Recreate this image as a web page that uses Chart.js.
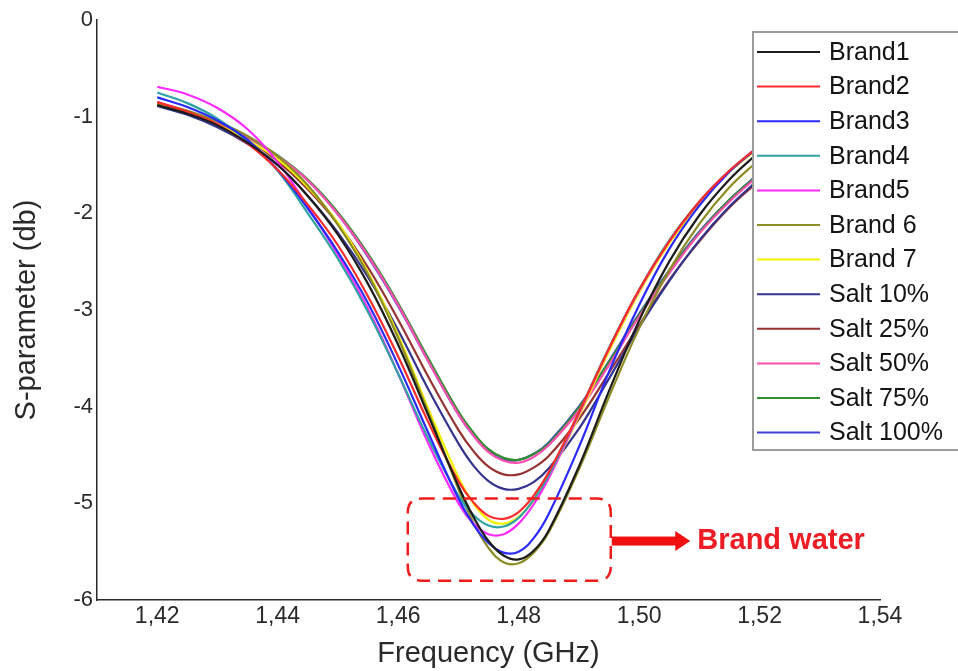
<!doctype html>
<html lang="en">
<head>
<meta charset="utf-8">
<title>S-parameter vs Frequency</title>
<script src="https://cdn.jsdelivr.net/npm/chart.js@4.4.1/dist/chart.umd.min.js"></script>
<style>
  html, body { margin: 0; padding: 0; background: #fff; }
  canvas { display: block; }
</style>
</head>
<body>
<canvas id="myChart" width="958" height="671"></canvas>
<script>
// frequency grid (GHz)
var freqs = [1.42, 1.425, 1.43, 1.435, 1.44, 1.445, 1.45, 1.455, 1.46, 1.465, 1.47, 1.4725,
             1.475, 1.4775, 1.48, 1.4825, 1.485, 1.49, 1.495, 1.50, 1.505, 1.51, 1.515, 1.52];

var xTickValues = [1.42, 1.44, 1.46, 1.48, 1.50, 1.52, 1.54];

// S-parameter (dB)
var brand1  = [-0.88, -0.97, -1.09, -1.27, -1.50, -1.82, -2.22, -2.73, -3.36, -4.09, -4.82, -5.14, -5.39, -5.54, -5.58, -5.49, -5.28, -4.62, -3.84, -3.11, -2.50, -2.02, -1.65, -1.36];
var brand2  = [-0.85, -0.95, -1.08, -1.28, -1.55, -1.91, -2.33, -2.86, -3.48, -4.16, -4.77, -4.99, -5.13, -5.16, -5.09, -4.92, -4.68, -4.06, -3.40, -2.79, -2.29, -1.88, -1.56, -1.30];
var brand3  = [-0.80, -0.90, -1.04, -1.24, -1.55, -1.95, -2.40, -2.93, -3.57, -4.27, -4.95, -5.22, -5.41, -5.51, -5.50, -5.36, -5.11, -4.42, -3.64, -2.95, -2.37, -1.92, -1.57, -1.30];
var brand4  = [-0.75, -0.86, -1.02, -1.25, -1.56, -2.00, -2.47, -3.02, -3.66, -4.33, -4.92, -5.12, -5.23, -5.24, -5.15, -4.96, -4.71, -4.06, -3.39, -2.79, -2.28, -1.88, -1.56, -1.30];
var brand5  = [-0.69, -0.77, -0.91, -1.13, -1.47, -1.93, -2.43, -2.99, -3.66, -4.38, -5.00, -5.21, -5.32, -5.32, -5.21, -5.01, -4.74, -4.08, -3.40, -2.80, -2.29, -1.88, -1.56, -1.31];
var brand6  = [-0.86, -0.94, -1.05, -1.20, -1.41, -1.71, -2.12, -2.63, -3.29, -4.06, -4.85, -5.20, -5.46, -5.61, -5.62, -5.51, -5.30, -4.65, -3.90, -3.19, -2.59, -2.11, -1.73, -1.44];
var brand7  = [-0.87, -0.96, -1.08, -1.24, -1.44, -1.73, -2.10, -2.61, -3.26, -4.02, -4.73, -5.00, -5.17, -5.21, -5.14, -4.97, -4.73, -4.10, -3.43, -2.82, -2.31, -1.90, -1.57, -1.32];
var salt10  = [-0.89, -0.98, -1.11, -1.28, -1.50, -1.82, -2.20, -2.66, -3.21, -3.82, -4.38, -4.61, -4.77, -4.85, -4.85, -4.78, -4.64, -4.23, -3.71, -3.18, -2.70, -2.28, -1.93, -1.64];
var salt25  = [-0.87, -0.96, -1.08, -1.24, -1.46, -1.75, -2.11, -2.56, -3.10, -3.69, -4.24, -4.46, -4.62, -4.70, -4.70, -4.63, -4.51, -4.13, -3.65, -3.16, -2.69, -2.29, -1.94, -1.66];
var salt50  = [-0.85, -0.94, -1.06, -1.21, -1.41, -1.66, -2.01, -2.44, -2.95, -3.53, -4.08, -4.30, -4.47, -4.56, -4.58, -4.52, -4.40, -4.04, -3.57, -3.07, -2.62, -2.21, -1.88, -1.60];
var salt75  = [-0.88, -0.96, -1.07, -1.21, -1.40, -1.65, -1.99, -2.42, -2.93, -3.50, -4.05, -4.27, -4.44, -4.53, -4.55, -4.49, -4.38, -4.01, -3.54, -3.05, -2.60, -2.20, -1.86, -1.59];
var salt100 = [-0.86, -0.95, -1.06, -1.21, -1.41, -1.66, -2.01, -2.45, -2.96, -3.53, -4.08, -4.30, -4.46, -4.55, -4.55, -4.49, -4.37, -4.00, -3.53, -3.04, -2.59, -2.19, -1.86, -1.58];

var seriesNames  = ['Brand1', 'Brand2', 'Brand3', 'Brand4', 'Brand5', 'Brand 6', 'Brand 7',
                    'Salt 10%', 'Salt 25%', 'Salt 50%', 'Salt 75%', 'Salt 100%'];
var seriesValues = [brand1, brand2, brand3, brand4, brand5, brand6, brand7,
                    salt10, salt25, salt50, salt75, salt100];
var seriesColors = ['#1c1c1c', '#ff2a2a', '#2a2aff', '#2fa3a3', '#ff2aff', '#8c8c24', '#f2f200',
                    '#34348f', '#963232', '#ff4fb0', '#2f8f2f', '#4242d6'];

// "Brand water" call-out, in data units
var boxFreq = [1.4616, 1.4953];
var boxDb = [-4.95, -5.80];
var arrowEndFreq = 1.5085;
var arrowDb = -5.39;
var calloutText = 'Brand water';

var FONT = '"Liberation Sans", Arial, sans-serif';

var datasets = seriesNames.map(function (name, i) {
    return {
        label: name,
        data: freqs.map(function (f, j) { return { x: f, y: seriesValues[i][j] }; }),
        borderColor: seriesColors[i],
        backgroundColor: seriesColors[i],
        borderWidth: 2.2,
        pointRadius: 0,
        fill: false,
        tension: 0.4
    };
});

// boxed legend drawn over the right edge of the plot
var legendBox = {
    id: 'legendBox',
    afterDatasetsDraw: function (chart) {
        var ctx = chart.ctx;
        ctx.save();
        ctx.fillStyle = '#fff';
        ctx.fillRect(753, 32, 215, 418);
        ctx.strokeStyle = '#9c9c9c';
        ctx.lineWidth = 2;
        ctx.strokeRect(753, 32, 215, 418);
        ctx.font = '25px ' + FONT;
        ctx.textBaseline = 'middle';
        chart.data.datasets.forEach(function (ds, i) {
            var y = 52 + i * 34.6;
            ctx.strokeStyle = ds.borderColor;
            ctx.lineWidth = 2;
            ctx.beginPath();
            ctx.moveTo(757, y);
            ctx.lineTo(820, y);
            ctx.stroke();
            ctx.fillStyle = '#141414';
            ctx.fillText(ds.label, 829, y + 1);
        });
        ctx.restore();
    }
};

// dashed rounded box, arrow and label
var callout = {
    id: 'callout',
    afterDatasetsDraw: function (chart) {
        var ctx = chart.ctx, xs = chart.scales.x, ys = chart.scales.y;
        var x0 = xs.getPixelForValue(boxFreq[0]), x1 = xs.getPixelForValue(boxFreq[1]);
        var y0 = ys.getPixelForValue(boxDb[0]), y1 = ys.getPixelForValue(boxDb[1]);
        var r = 14;
        ctx.save();
        ctx.strokeStyle = '#f01c1c';
        ctx.lineWidth = 2.5;
        ctx.setLineDash([13, 8]);
        ctx.beginPath();
        ctx.moveTo(x0 + r, y0);
        ctx.lineTo(x1 - r, y0);
        ctx.quadraticCurveTo(x1, y0, x1, y0 + r);
        ctx.lineTo(x1, y1 - r);
        ctx.quadraticCurveTo(x1, y1, x1 - r, y1);
        ctx.lineTo(x0 + r, y1);
        ctx.quadraticCurveTo(x0, y1, x0, y1 - r);
        ctx.lineTo(x0, y0 + r);
        ctx.quadraticCurveTo(x0, y0, x0 + r, y0);
        ctx.closePath();
        ctx.stroke();
        ctx.setLineDash([]);

        var ay = ys.getPixelForValue(arrowDb);
        var ax1 = xs.getPixelForValue(arrowEndFreq);
        ctx.fillStyle = '#f01010';
        ctx.fillRect(x1 + 1, ay - 4.5, ax1 - 14 - x1 - 1, 9);
        ctx.beginPath();
        ctx.moveTo(ax1 - 15, ay - 10);
        ctx.lineTo(ax1, ay);
        ctx.lineTo(ax1 - 15, ay + 10);
        ctx.closePath();
        ctx.fill();

        ctx.fillStyle = '#ee1c24';
        ctx.font = 'bold 29px ' + FONT;
        ctx.textBaseline = 'middle';
        ctx.fillText(calloutText, ax1 + 7, ay);
        ctx.restore();
    }
};

var ctx = document.getElementById('myChart').getContext('2d');
new Chart(ctx, {
    type: 'line',
    data: { datasets: datasets },
    options: {
        responsive: false,
        animation: false,
        devicePixelRatio: 1,
        layout: { padding: { top: 20, right: 78, left: 0, bottom: 0 } },
        plugins: { legend: { display: false }, tooltip: { enabled: false } },
        scales: {
            x: {
                type: 'linear',
                min: 1.41,
                max: 1.54,
                afterFit: function (scale) { scale.height = 71; },
                afterBuildTicks: function (scale) {
                    scale.ticks = xTickValues.map(function (v) { return { value: v }; });
                },
                ticks: {
                    color: '#2a2a2a',
                    font: { family: FONT, size: 23 },
                    padding: 3,
                    maxRotation: 0,
                    autoSkip: false,
                    callback: function (v) { return v.toFixed(2).replace('.', ','); }
                },
                grid: { display: false, drawTicks: false },
                border: { display: true, color: '#2a2a2a', width: 1.5 },
                title: {
                    display: true,
                    text: 'Frequency (GHz)',
                    color: '#2a2a2a',
                    font: { family: FONT, size: 29 },
                    padding: { top: 0, bottom: 0 }
                }
            },
            y: {
                min: -6,
                max: 0,
                afterFit: function (scale) { scale.width = 97; },
                ticks: {
                    stepSize: 1,
                    color: '#2a2a2a',
                    font: { family: FONT, size: 22 },
                    padding: 4,
                    callback: function (v) { return String(v); }
                },
                grid: { display: false, drawTicks: false },
                border: { display: true, color: '#2a2a2a', width: 1.5 },
                title: {
                    display: true,
                    text: 'S-parameter (db)',
                    color: '#2a2a2a',
                    font: { family: FONT, size: 29 },
                    padding: { top: 10, bottom: 0 }
                }
            }
        }
    },
    plugins: [legendBox, callout]
});
</script>
</body>
</html>
